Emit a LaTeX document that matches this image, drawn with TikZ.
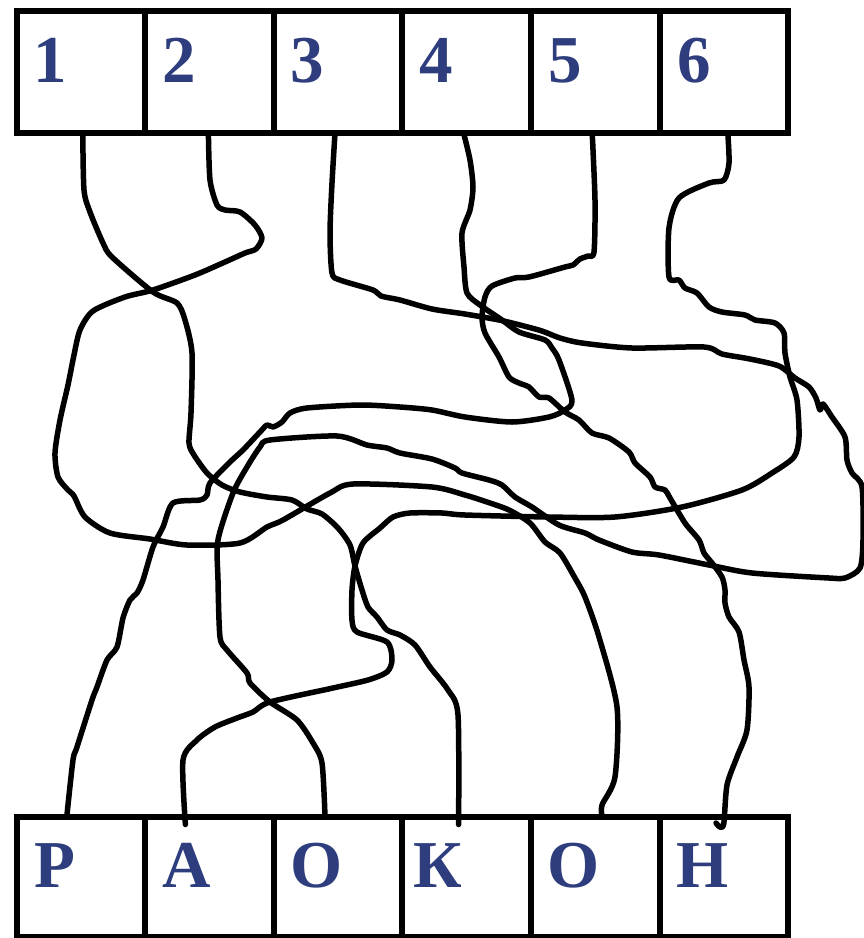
\documentclass[tikz,border=0pt]{standalone}
\usepackage{fontspec}
\setmainfont{Liberation Serif}
\definecolor{ink}{RGB}{45,61,125}
\begin{document}
\begin{tikzpicture}[x=1pt, y=-1pt,
		cell/.style={draw, line width=6pt, minimum width=128.6pt, minimum height=122pt, inner sep=0pt, outer sep=0pt},
		lowcell/.style={cell, minimum height=120pt},
		glyph/.style={anchor=base, inner sep=0pt, text=ink, font=\fontsize{67}{70}\selectfont\bfseries},
		wire/.style={line width=5.5pt, line cap=round, line join=round}]
			\useasboundingbox (0,0) rectangle (864,938);
			% top row
			\node[cell] (t1) at (80.8,72) {};
			\node[cell] (t2) at (209.4,72) {};
			\node[cell] (t3) at (338,72) {};
			\node[cell] (t4) at (466.6,72) {};
			\node[cell] (t5) at (595.2,72) {};
			\node[cell] (t6) at (723.8,72) {};
			\node[glyph] (n1) at (50,82) {1};
			\node[glyph] (n2) at (179,82) {2};
			\node[glyph] (n3) at (307,82) {3};
			\node[glyph] (n4) at (436,82) {4};
			\node[glyph] (n5) at (565,82) {5};
			\node[glyph] (n6) at (694,82) {6};
			% bottom row
			\node[lowcell] (b1) at (80.8,876.5) {};
			\node[lowcell] (b2) at (209.4,876.5) {};
			\node[lowcell] (b3) at (338,876.5) {};
			\node[lowcell] (b4) at (466.6,876.5) {};
			\node[lowcell] (b5) at (595.2,876.5) {};
			\node[lowcell] (b6) at (723.8,876.5) {};
			\node[glyph] (c1) at (55,887) {Р};
			\node[glyph] (c2) at (187,887) {А};
			\node[glyph] (c3) at (317,887) {О};
			\node[glyph] (c4) at (438,887) {К};
			\node[glyph] (c5) at (574,887) {О};
			\node[glyph] (c6) at (703,887) {Н};
			% 1 -> K
			\draw[wire] plot[smooth, tension=0.45] coordinates {([xshift=2pt]t1.south) (84,190) (90,212) (103,243) (112,257) (153,292) (177,303) (185,320) (192,353) (191,413) (189,443) (194,455) (207,473) (222,485) (240,492) (267,497) (292,500) (307,509) (322,514) (338,528) (350,545) (355,566) (362,590) (368,607) (377,617) (387,630) (400,635) (415,645) (430,667) (448,690) (458,715) ([xshift=-8pt, yshift=-8pt]b4.north)};
			% 2 -> O
			\draw[wire] plot[smooth, tension=0.45] coordinates {([xshift=-1pt]t2.south) (210,180) (217,205) (225,210) (240,212) (255,225) (262,238) (256,249) (245,253) (225,262) (195,275) (153,290) (125,297) (93,311) (80,330) (74,355) (68,385) (60,420) (55,453) (58,477) (68,490) (74,496) (85,517) (110,533) (150,539) (187,545) (240,543) (267,527) (283,520) (330,493) (353,484) (432,487) (465,495) (487,502) (509,510) (530,523) (545,542) (560,553) (575,578) (585,597) (599,637) (617,707) (615,777) (602,805) ([xshift=7pt]b5.north)};
			% 3 -> O
			\draw[wire] plot[smooth, tension=0.45] coordinates {([xshift=-3pt]t3.south) (332,183) (330,233) (332,273) (340,280) (373,290) (381,296) (400,300) (432,309) (465,314) (499,320) (520,325) (542,331) (560,338) (582,343) (632,348) (704,347) (722,354) (750,359) (779,366) (795,378) (809,387) (816,398) (820,410) (823,404) (832,417) (845,437) (847,460) (852,473) (862,487) (863,540) (860,568) (845,578) (829,578) (752,573) (709,565) (659,555) (632,552) (599,540) (585,533) (559,525) (532,507) (515,497) (502,485) (489,480) (462,473) (455,468) (432,459) (400,453) (387,448) (367,445) (337,436) (270,440) (260,447) (247,467) (233,493) (218,540) (218,580) (220,637) (227,650) (247,673) (250,683) (270,702) (297,720) (313,743) (322,763) ([xshift=-13pt]b3.north)};
			% 4 -> P
			\draw[wire] plot[smooth, tension=0.45] coordinates {([xshift=-3pt]t4.south) (470,160) (473,187) (470,210) (462,233) (464,267) (467,293) (480,305) (502,320) (519,332) (545,340) (552,348) (559,360) (572,400) (565,410) (549,417) (512,422) (465,417) (432,410) (400,407) (360,405) (307,408) (290,413) (282,422) (273,427) (267,425) (260,432) (243,450) (230,462) (210,483) (207,495) (200,500) (173,503) (163,527) (153,547) (143,580) (137,593) (130,600) (123,618) (117,647) (107,660) (97,687) (92,700) (77,747) (73,760) ([xshift=-14pt]b1.north)};
			% 5 -> H
			\draw[wire] plot[smooth, tension=0.45] coordinates {([xshift=-3pt]t5.south) (595,200) (594,252) (588,256) (580,259) (573,265) (565,267) (529,277) (515,278) (492,286) (485,297) (482,317) (485,333) (499,357) (509,377) (519,383) (529,387) (539,397) (549,398) (565,412) (579,420) (592,433) (609,438) (629,452) (635,463) (650,477) (655,487) (665,490) (670,498) (685,523) (699,540) (704,553) (712,563) (722,577) (725,590) (725,603) (729,617) (739,632) (744,660) (749,687) (747,730) (737,757) (727,785) ([yshift=-7pt]b6.north) (720,827) (716,823)};
			% 6 -> A
			\draw[wire] plot[smooth, tension=0.45] coordinates {([xshift=4pt]t6.south) (729,163) (724,180) (709,183) (679,198) (669,228) (669,277) (679,280) (685,288) (697,293) (709,307) (722,312) (745,315) (755,320) (775,323) (784,333) (785,353) (790,377) (797,400) (799,437) (794,457) (772,473) (742,490) (682,507) (615,517) (549,517) (465,515) (442,513) (410,513) (393,517) (380,528) (363,543) (355,566) (352,590) (352,620) (357,632) (387,642) (392,660) (387,672) (368,680) (333,688) (270,702) (253,712) (237,718) (215,727) (197,740) (183,760) ([xshift=-24pt, yshift=-8pt]b2.north)};
		\end{tikzpicture}
\end{document}
